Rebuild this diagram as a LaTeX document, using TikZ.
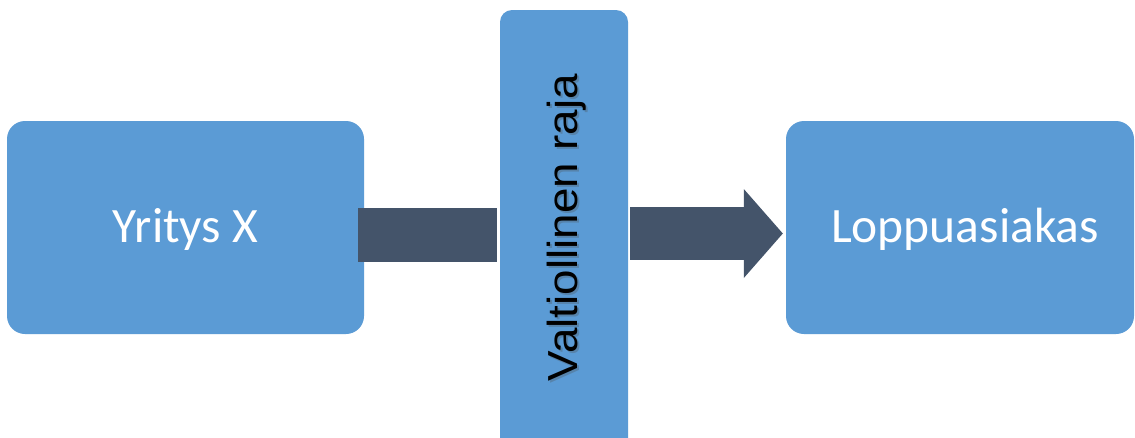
\documentclass[tikz,border=0pt]{standalone}
\usepackage{fontspec}
\setmainfont{Carlito}
\newfontfamily\labelfont{Liberation Sans}
\usetikzlibrary{arrows.meta,calc}
\definecolor{boxblue}{RGB}{91,155,213}
\definecolor{slate}{RGB}{68,84,106}
\tikzset{
  party/.style={fill=boxblue, rounded corners=18pt, inner sep=0pt},
  border/.style={fill=boxblue, rounded corners=12pt, inner sep=0pt},
  partytext/.style={text=white, font=\fontsize{49.5}{49.5}\selectfont, anchor=base},
  bordertext/.style={anchor=base, rotate=90, inner sep=0pt,
    font=\labelfont\fontsize{42}{42}\selectfont},
  flowbar/.style={draw=slate, line width=54pt},
  flowarrow/.style={draw=slate, line width=53pt,
    -{Triangle[length=39pt,width=89pt,line width=0pt,fill=slate]}}
}
\begin{document}
\begin{tikzpicture}[x=1pt,y=-1pt]
  \useasboundingbox (0,0) rectangle (1135,437);
  \clip (0,0) rectangle (1135,437);
  \fill[white] (0,0) rectangle (1135,437);

  % the two parties
  \node[party, minimum width=357pt, minimum height=213pt] (yx) at (185.5,227.5) {};
  \node[party, minimum width=348pt, minimum height=213pt] (lp) at (960,227.5) {};

  % the national border
  \node[border, minimum width=128pt, minimum height=470pt] (mid) at (564,245) {};

  % flow from the company up to the border
  \draw[flowbar] ([shift={(-6,7.5)}]yx.east) -- ([shift={(-3,7.5)}]mid.west |- yx.east);

  % flow from the border to the end customer
  \draw[flowarrow] ([shift={(2,6)}]mid.east |- lp.west) -- ([shift={(-3,6)}]lp.west);

  % labels
  \node[partytext] (yxt) at (185.5,242) {Yritys X};
  \node[partytext] (lpt) at (965,242) {Loppuasiakas};
  \node[bordertext, text=black!70, opacity=0.3] at (579,229.5)
        {\scalebox{1.09}[1]{Valtiollinen raja}};
  \node[bordertext, text=black] (midt) at (577,227.5)
        {\scalebox{1.09}[1]{Valtiollinen raja}};
\end{tikzpicture}
\end{document}
